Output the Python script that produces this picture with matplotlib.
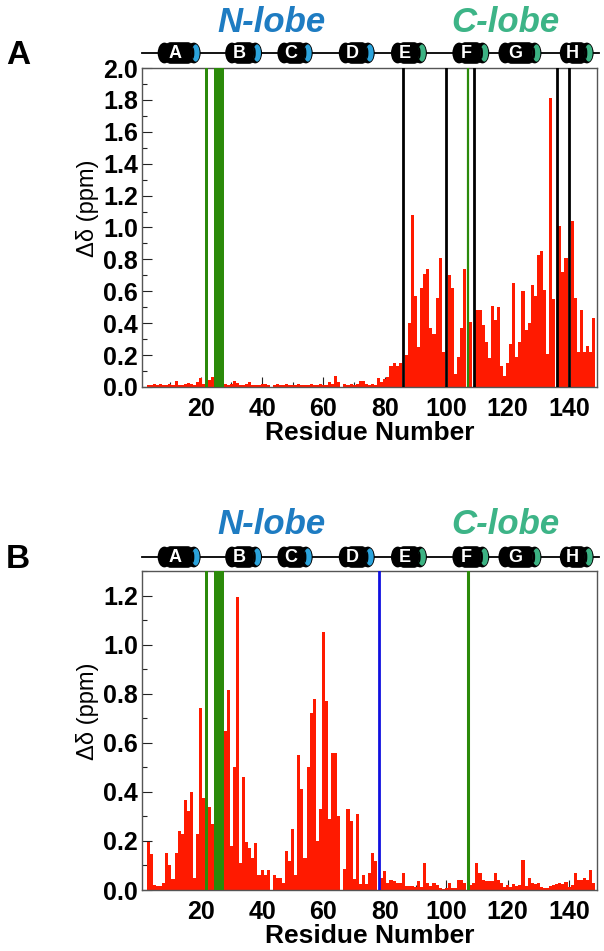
import numpy as np
import matplotlib
matplotlib.use('Agg')
import matplotlib.pyplot as plt
from matplotlib.patches import FancyBboxPatch, Ellipse
from matplotlib import transforms
from matplotlib.ticker import MultipleLocator, FormatStrFormatter

plt.rcParams['font.family'] = ['Liberation Sans', 'DejaVu Sans']

nan = np.nan
residues = np.arange(1, 149)

# chemical shift perturbation, panel A (nan = no peak)
shift_a = [nan, nan, .01, .01, .02, .015, .02, .015, .01, .02,
           .015, .04, .015, .01, .02, .025, .02, .015, .03, .055,
           .02, nan, .045, .065, nan, nan, nan, .02, .015, .02,
           .035, .025, .015, .01, .02, .03, .015, .01, .015, .02,
           .02, .01, nan, .015, .02, .015, .01, .02, .01, .015,
           .01, .02, .015, .01, .015, .02, .01, .015, .02, .01,
           .015, .03, .02, .07, .03, nan, .02, .015, .02, .015,
           .02, .035, .04, .02, .015, .02, .015, .055, .03, .05,
           .06, .13, .15, .13, .15, nan, .20, .40, 1.08, .57,
           .25, .62, .71, .74, .37, .33, .56, .81, .22, nan,
           .70, .62, .08, .19, .37, .74, nan, .41, nan, .48,
           .48, .39, .28, .18, .51, .42, .50, .13, .07, .15,
           .27, .65, .19, .28, .60, .36, .40, .64, .57, .83,
           .85, .61, .21, 1.81, .55, nan, 1.01, .72, .81, nan,
           1.04, .56, .22, .48, .22, .26, .22, .43]

# panel B
shift_b = [nan, nan, .195, .145, .02, .015, .015, .03, .15, .10,
           .045, .15, .24, .23, .365, .32, .40, .05, .23, .74,
           .375, nan, .34, .27, nan, nan, nan, .65, .815, .18,
           .50, 1.195, .11, .46, .195, .17, .13, .19, .06, .08,
           .06, .08, nan, .06, .05, .05, .03, .157, .12, .25,
           .06, .55, .41, .13, .50, .72, .78, .20, .33, 1.05,
           .77, .29, .56, .56, .30, nan, .085, .33, .28, .045,
           .31, .025, .06, .025, .07, .15, .12, nan, .05, .076,
           .03, .04, .035, .03, .03, .07, .018, .018, .015, .014,
           .035, .014, .11, .03, .018, .03, .022, .01, .005, .008,
           .03, .01, .01, .04, .04, .03, nan, .02, .03, .11,
           .07, .04, .035, .035, .035, .07, .04, .03, .014, .02,
           .014, .025, .018, .02, .124, .018, .048, .027, .025, .027,
           .014, .01, .01, .018, .02, .025, .027, .025, .034, .012,
           .02, .07, .04, .04, .05, .04, .08, .027]

green_band = [22, 25, 26, 27]
black_lines_a = [86, 100, 109, 136, 140]
green_line = 107
blue_line_b = 78

helix_names = ['A', 'B', 'C', 'D', 'E', 'F', 'G', 'H']
helix_start = [6, 28, 45, 65, 82, 102, 117, 137]
helix_end = [20, 40, 56.5, 76.7, 93.7, 114, 131, 148]
lobe_of_helix = ['N', 'N', 'N', 'N', 'C', 'C', 'C', 'C']

cap_color = {'N': '#2ba3dc', 'C': '#3cb383'}
lobe_text_color = {'N': '#1e7cc2', 'C': '#3db487'}

W, H = 604, 951
fig = plt.figure(figsize=(W / 100, H / 100), dpi=100)

XMIN, XMAX = 0.9, 149.1
red = '#ff1a00'
green = '#2b8a0a'


def cartoon(top_px, lobe_y_px):
    hax = fig.add_axes([142 / W, 1 - (top_px + 26) / H, 455 / W, 26 / H])
    hax.set_xlim(XMIN, XMAX)
    hax.set_ylim(0, 1)
    hax.axis('off')
    hax.plot([XMIN, 149.9], [0.5, 0.5], color='black', lw=1.3, clip_on=False, zorder=1)
    aspect = (1 / 26) / ((XMAX - XMIN) / 455)
    for name, s, e, lobe in zip(helix_names, helix_start, helix_end, lobe_of_helix):
        body = FancyBboxPatch((s + 2.2, 0.1), (e - s) - 4.4, 0.8,
                              boxstyle='round,pad=0,rounding_size=2.2',
                              mutation_aspect=aspect,
                              fc='black', ec='black', lw=0.5, zorder=2, clip_on=False)
        hax.add_patch(body)
        hax.add_patch(Ellipse((s + 2.2, 0.5), 4.4, 0.8, fc='black', ec='none',
                              zorder=2, clip_on=False))
        hax.add_patch(Ellipse((e - 2.2, 0.5), 4.4, 0.8, fc='black', ec='none',
                              zorder=2, clip_on=False))
        hax.add_patch(Ellipse((e - 1.6, 0.5), 2.5, 0.66, fc=cap_color[lobe], ec='none',
                              zorder=3, clip_on=False))
        hax.add_patch(Ellipse((e - 2.5, 0.5), 0.9, 0.44, fc='black', ec='none',
                              zorder=4, clip_on=False))
        hax.text((s + e - 2.8) / 2, 0.47, name, color='white', fontsize=13,
                 fontweight='bold', ha='center', va='center', zorder=5)
    tr = transforms.blended_transform_factory(hax.transData, fig.transFigure)
    fig.text(43, 1 - lobe_y_px / H, 'N-lobe', transform=tr, color=lobe_text_color['N'],
             fontsize=25, fontweight='bold', fontstyle='italic', ha='center', va='center')
    fig.text(119.3, 1 - lobe_y_px / H, 'C-lobe', transform=tr, color=lobe_text_color['C'],
             fontsize=25, fontweight='bold', fontstyle='italic', ha='center', va='center')


def panel(top_px, vals, ymax):
    ax = fig.add_axes([142 / W, 1 - (top_px + 319) / H, 455 / W, 319 / H])
    vals = np.array(vals, dtype=float)
    ok = ~np.isnan(vals)
    ax.bar(residues[ok], vals[ok], width=1.0, color=red, linewidth=0, zorder=2)
    ax.bar(green_band, [ymax] * len(green_band), width=1.0, color=green,
           linewidth=0, zorder=3)
    ax.set_xlim(XMIN, XMAX)
    ax.set_ylim(0, ymax)
    ax.xaxis.set_minor_locator(MultipleLocator(10))
    ax.yaxis.set_major_locator(MultipleLocator(0.2))
    ax.yaxis.set_minor_locator(MultipleLocator(0.1))
    ax.yaxis.set_major_formatter(FormatStrFormatter('%.1f'))
    ax.set_xticks([20, 40, 60, 80, 100, 120, 140])
    ax.tick_params(which='both', direction='in', width=0.8, color='#222')
    ax.tick_params(which='major', length=7)
    ax.tick_params(which='minor', length=3.6)
    ax.tick_params(axis='x', pad=7)
    ax.tick_params(axis='y', pad=3)
    for lab in ax.get_xticklabels() + ax.get_yticklabels():
        lab.set_fontsize(18)
        lab.set_fontweight('bold')
    for sp in ax.spines.values():
        sp.set_color('#555')
        sp.set_linewidth(1.0)
    ax.set_xlabel('Residue Number', fontsize=19, fontweight='bold')
    ax.xaxis.set_label_coords(0.5, -0.108)
    ax.set_ylabel('Δδ (ppm)', fontsize=17)
    ax.yaxis.set_label_coords(-0.095, 0.56)
    return ax


cartoon(40, 22)
axA = panel(68, shift_a, 2.0)
for x in black_lines_a:
    axA.axvline(x, color='black', lw=2.0, zorder=4)
axA.axvline(green_line, color=green, lw=1.6, zorder=4)

cartoon(544, 525)
axB = panel(571, shift_b, 1.3)
axB.axvline(blue_line_b, color='#1010e0', lw=2.0, zorder=4)
axB.axvline(green_line, color=green, lw=2.2, zorder=4)

fig.text(18 / W, 1 - 55 / H, 'A', fontsize=24, fontweight='bold', ha='center', va='center')
fig.text(18 / W, 1 - 559 / H, 'B', fontsize=24, fontweight='bold', ha='center', va='center')

fig.savefig('out.png', dpi=100)
